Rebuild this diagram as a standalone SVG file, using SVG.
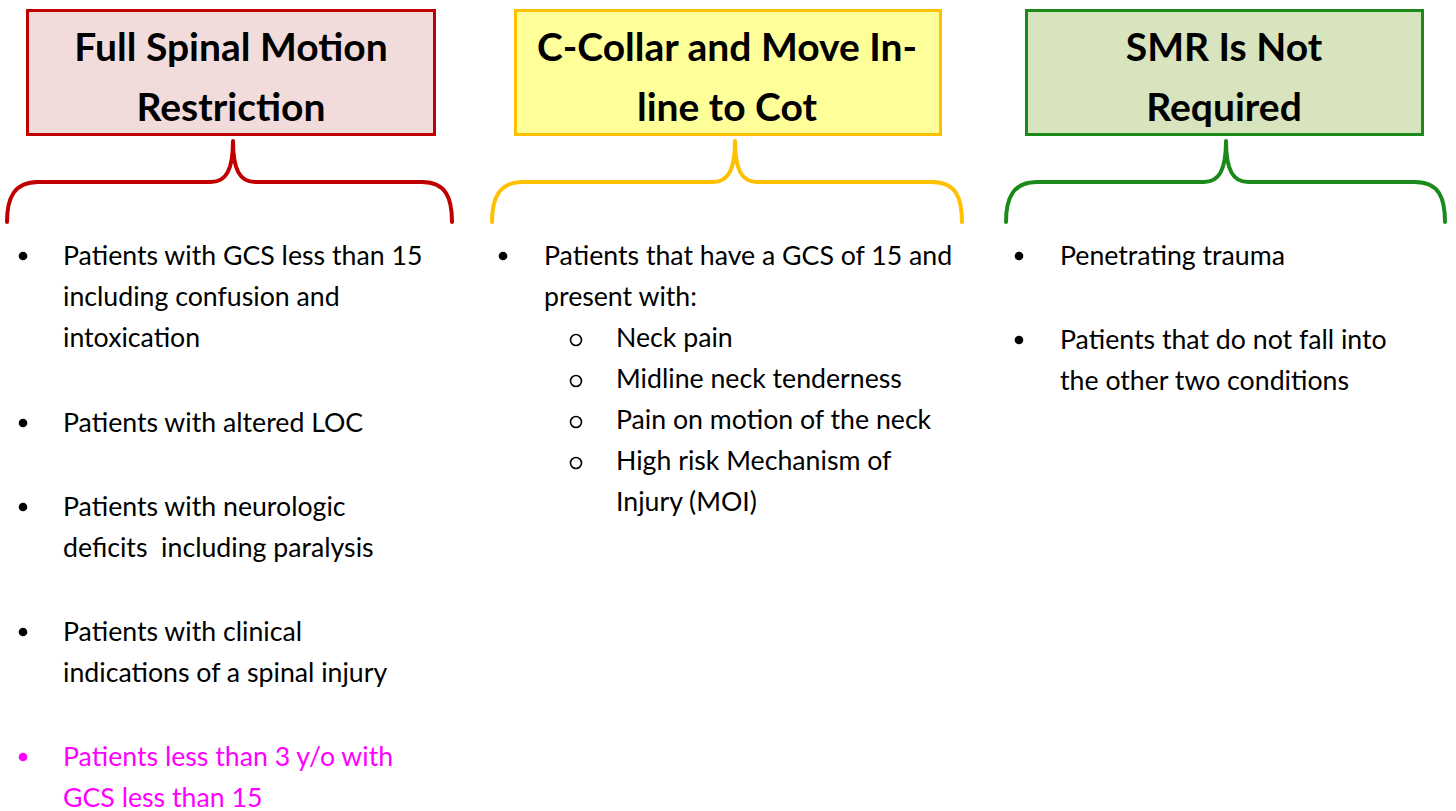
<svg xmlns="http://www.w3.org/2000/svg" width="1456" height="811" viewBox="0 0 1456 811">
<style>
.title{font-family:Lato,"Liberation Sans",sans-serif;font-weight:bold;font-size:39px;fill:#000;text-anchor:middle}
.item{font-family:Lato,"Liberation Sans",sans-serif;font-size:26.7px;fill:#000}
.pink{fill:#FF00FF}
.brace{fill:none;stroke-width:4;stroke-linecap:round;stroke-linejoin:round}
.sub{fill:none;stroke:#000;stroke-width:1.6}
</style>
<rect width="1456" height="811" fill="#fff"/>
<g id="node-full">
<rect x="27.5" y="10.5" width="407" height="124" fill="#F2DCDB" stroke="#C00000" stroke-width="3"/>
<text class="title" x="231" y="61">Full Spinal Motion</text>
<text class="title" x="231" y="121">Restriction</text>
</g>
<g id="node-collar">
<rect x="515.5" y="10.5" width="425" height="124" fill="#FFFF99" stroke="#FFC000" stroke-width="3"/>
<text class="title" x="727" y="61">C-Collar and Move In-</text>
<text class="title" x="727" y="121">line to Cot</text>
</g>
<g id="node-smr">
<rect x="1026.5" y="10.5" width="396" height="124" fill="#D7E4BD" stroke="#1A8A1A" stroke-width="3"/>
<text class="title" x="1224" y="61">SMR Is Not</text>
<text class="title" x="1224" y="121">Required</text>
</g>
<g id="connectors">
<path class="brace" stroke="#C00000" d="M7 222 C7 198 14 182 38 182 L211 182 C226 182 233 170 233 141 C233 170 240 182 255 182 L422 182 C446 182 452 198 452 222"/>
<path class="brace" stroke="#FFC000" d="M492 222 C492 198 499 182 523 182 L713 182 C728 182 735 170 735 141 C735 170 742 182 757 182 L932 182 C956 182 962 198 962 222"/>
<path class="brace" stroke="#1A8A1A" d="M1006 222 C1006 198 1013 182 1037 182 L1204 182 C1219 182 1226 170 1226 141 C1226 170 1233 182 1248 182 L1415 182 C1439 182 1445 198 1445 222"/>
</g>
<g id="list-full">
<circle cx="23" cy="256" r="4.3"/>
<text class="item" x="63" y="265">Patients with GCS less than 15</text>
<text class="item" x="63" y="306">including confusion and</text>
<text class="item" x="63" y="347">intoxication</text>
<circle cx="23" cy="423" r="4.3"/>
<text class="item" x="63" y="432">Patients with altered LOC</text>
<circle cx="23" cy="507" r="4.3"/>
<text class="item" x="63" y="516">Patients with neurologic</text>
<text class="item" x="63" y="557" xml:space="preserve">deficits  including paralysis</text>
<circle cx="23" cy="632" r="4.3"/>
<text class="item" x="63" y="641">Patients with clinical</text>
<text class="item" x="63" y="682">indications of a spinal injury</text>
<circle cx="23" cy="757" r="4.3" fill="#FF00FF"/>
<text class="item pink" x="63" y="766">Patients less than 3 y/o with</text>
<text class="item pink" x="63" y="807">GCS less than 15</text>
</g>
<g id="list-collar">
<circle cx="503" cy="256" r="4.3"/>
<text class="item" x="544" y="265">Patients that have a GCS of 15 and</text>
<text class="item" x="544" y="306">present with:</text>
<circle class="sub" cx="576" cy="340" r="5.5"/>
<text class="item" x="616" y="347">Neck pain</text>
<circle class="sub" cx="576" cy="381" r="5.5"/>
<text class="item" x="616" y="388">Midline neck tenderness</text>
<circle class="sub" cx="576" cy="422" r="5.5"/>
<text class="item" x="616" y="429">Pain on motion of the neck</text>
<circle class="sub" cx="576" cy="463" r="5.5"/>
<text class="item" x="616" y="470">High risk Mechanism of</text>
<text class="item" x="616" y="511">Injury (MOI)</text>
</g>
<g id="list-smr">
<circle cx="1019" cy="256" r="4.3"/>
<text class="item" x="1060" y="265">Penetrating trauma</text>
<circle cx="1019" cy="340" r="4.3"/>
<text class="item" x="1060" y="349">Patients that do not fall into</text>
<text class="item" x="1060" y="390">the other two conditions</text>
</g>
</svg>
